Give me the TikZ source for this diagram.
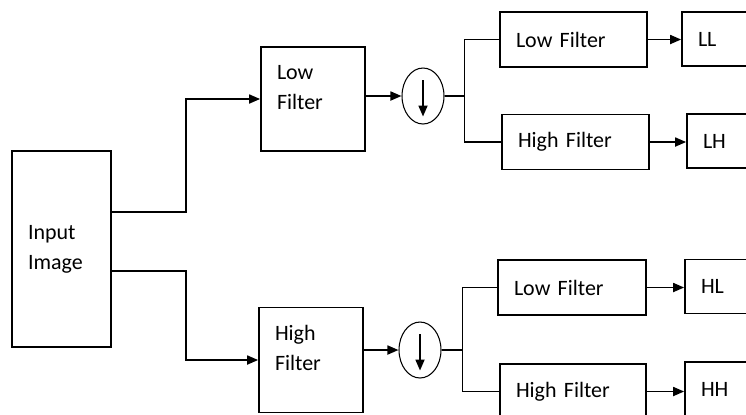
\documentclass[tikz,border=0pt]{standalone}
\usepackage{fontspec}
\setmainfont{Carlito}
\usetikzlibrary{arrows.meta,shapes.geometric}

\begin{document}
\begin{tikzpicture}[x=0.02cm,y=-0.02cm,
  blk/.style={draw,line width=1pt,inner xsep=0.32cm,align=left,
    font=\fontsize{12.5}{17}\selectfont},
  arr/.style={line width=1pt,-{Triangle[length=0.22cm,width=0.18cm]}},
  smp/.style={draw,ellipse,line width=0.6pt,minimum width=0.84cm,
    minimum height=1.12cm,inner sep=0pt}]
\clip (0,0) rectangle (746,414);
% input and first stage
\node[blk,text width=1.34cm,minimum height=3.92cm] (in) at (61.5,249) {Input\\Image};
\node[blk,text width=1.44cm,minimum height=2.08cm] (lf) at (313,99) {Low\\Filter\\[-3.4pt]\mbox{}};
\node[blk,text width=1.44cm,minimum height=2.1cm] (hf) at (311,360) {High\\Filter\\[-3.4pt]\mbox{}};
\node[smp] (d1) at (423,96) {};
\node[smp] (d2) at (420,350) {};
% second stage
\node[blk,text width=2.30cm,minimum height=1.1cm] (lo1) at (573.5,39.5) {Low Filter};
\node[blk,text width=2.30cm,minimum height=1.1cm] (hi1) at (575.5,142) {High Filter};
\node[blk,text width=2.32cm,minimum height=1.1cm] (lo2) at (572,287.5) {Low Filter};
\node[blk,text width=2.28cm,minimum height=1.1cm] (hi2) at (573,391.5) {High Filter};
% sub-bands
\node[blk,text width=1.36cm,minimum height=1.08cm] (ll) at (732,39) {LL};
\node[blk,text width=1.36cm,minimum height=1.08cm] (lh) at (737,141) {LH};
\node[blk,text width=1.36cm,minimum height=1.08cm] (hl) at (735,286.5) {HL};
\node[blk,text width=1.36cm,minimum height=1.08cm] (hh) at (735,389) {HH};

\draw[arr] ([yshift=0.74cm]in.east) -- ++(74,0) |- (lf.west);
\draw[arr] ([yshift=-0.44cm]in.east) -- ++(74,0) |- (hf.west);
\draw[arr] (lf.east |- d1) -- (d1.west);
\draw[arr] (hf.east |- d2) -- (d2.west);
\draw[arr] ([yshift=-0.26cm]d1.north) -- ([yshift=0.16cm]d1.south);
\draw[arr] ([yshift=-0.26cm]d2.north) -- ([yshift=0.16cm]d2.south);

\draw[line width=1pt] (d1.east) -- ++(20,0) |- (lo1.west);
\draw[line width=1pt] (d1.east) -- ++(20,0) |- (hi1.west);
\draw[line width=1pt] (d2.east) -- ++(21,0) |- (lo2.west);
\draw[line width=1pt] (d2.east) -- ++(21,0) |- (hi2.west);

\draw[arr] (lo1.east) -- (lo1.east -| ll.west);
\draw[arr] (hi1.east) -- (hi1.east -| lh.west);
\draw[arr] (lo2.east) -- (lo2.east -| hl.west);
\draw[arr] (hi2.east) -- (hi2.east -| hh.west);
\end{tikzpicture}
\end{document}
